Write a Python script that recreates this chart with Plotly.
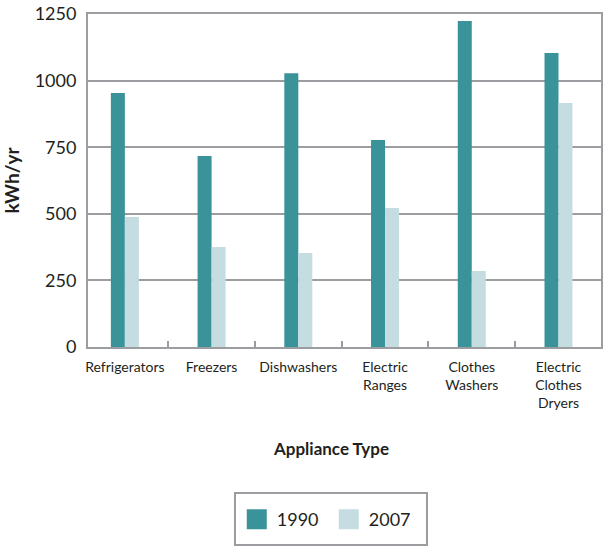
import plotly.graph_objects as go

categories = ["Refrigerators", "Freezers", "Dishwashers", "Electric<br>Ranges",
              "Clothes<br>Washers", "Electric<br>Clothes<br>Dryers"]
values_1990 = [953, 717, 1028, 777, 1224, 1104]
values_2007 = [488, 375, 353, 522, 285, 916]
series_names = ["1990", "2007"]
y_ticks = [0, 250, 500, 750, 1000, 1250]

C1 = "#3a9399"
C2 = "#c5dde1"
GRAY = "#9c9da1"
TXT = "#231f20"
FONT = "Lato"

fig = go.Figure()
fig.add_trace(go.Bar(x=categories, y=values_1990, name=series_names[0],
                     marker=dict(color=C1, line=dict(width=0)),
                     legendgroup="a", showlegend=False))
fig.add_trace(go.Bar(x=categories, y=values_2007, name=series_names[1],
                     marker=dict(color=C2, line=dict(width=0)),
                     legendgroup="b", showlegend=False))
# legend proxies (larger square swatches)
fig.add_trace(go.Scatter(x=[None], y=[None], mode="markers", name=series_names[0],
                         legendgroup="a",
                         marker=dict(symbol="square", size=16, color=C1,
                                     line=dict(color=C1, width=4))))
fig.add_trace(go.Scatter(x=[None], y=[None], mode="markers", name=series_names[1],
                         legendgroup="b",
                         marker=dict(symbol="square", size=16, color=C2,
                                     line=dict(color=C2, width=4))))

fig.update_layout(
    width=605, height=550,
    margin=dict(l=88, r=4, t=14, b=203, autoexpand=False),
    paper_bgcolor="white", plot_bgcolor="white",
    font=dict(family=FONT, color=TXT),
    barmode="group", bargap=0.677, bargroupgap=0,
    showlegend=True,
    legend=dict(orientation="h", x=0.290, xanchor="left", y=-0.518, yanchor="middle",
                bordercolor="rgba(0,0,0,0)", borderwidth=2, entrywidth=47,
                font=dict(size=18, family=FONT, color=TXT),
                bgcolor="rgba(0,0,0,0)"),
    xaxis=dict(type="category", range=[-0.425, 5.49], automargin=False,
               showline=True, linecolor=GRAY, linewidth=2, mirror=True,
               ticks="inside", tickson="boundaries", ticklen=6, tickwidth=2, tickcolor=GRAY,
               showgrid=False, tickangle=0, tickfont=dict(size=14, family=FONT, color=TXT),
               ticklabelstandoff=6, fixedrange=True),
    yaxis=dict(range=[0, 1250], tickvals=y_ticks, ticktext=[str(v) for v in y_ticks],
               automargin=False, ticklabeloverflow="allow",
               showline=True, linecolor=GRAY, linewidth=2, mirror=True,
               showgrid=True, gridcolor=GRAY, gridwidth=2, zeroline=False,
               ticks="", tickfont=dict(size=18, family=FONT, color=TXT),
               ticklabelstandoff=6,
               title=dict(text="<b>kWh/yr</b>", font=dict(size=19, family=FONT, color=TXT),
                          standoff=16)),
    shapes=[dict(type="rect", xref="paper", yref="paper",
                 x0=0.2865, x1=0.6608, y0=-0.5946, y1=-0.4384,
                 line=dict(color=GRAY, width=2), fillcolor="white", layer="below")],
    annotations=[dict(text="<b>Appliance Type</b>", xref="paper", yref="paper",
                      x=0.4737, y=-0.306, xanchor="center", yanchor="middle",
                      showarrow=False, font=dict(size=17, family=FONT, color=TXT))],
)

fig.write_html("out.html", config={"displayModeBar": False},
               post_script="document.body.style.margin='0';")
